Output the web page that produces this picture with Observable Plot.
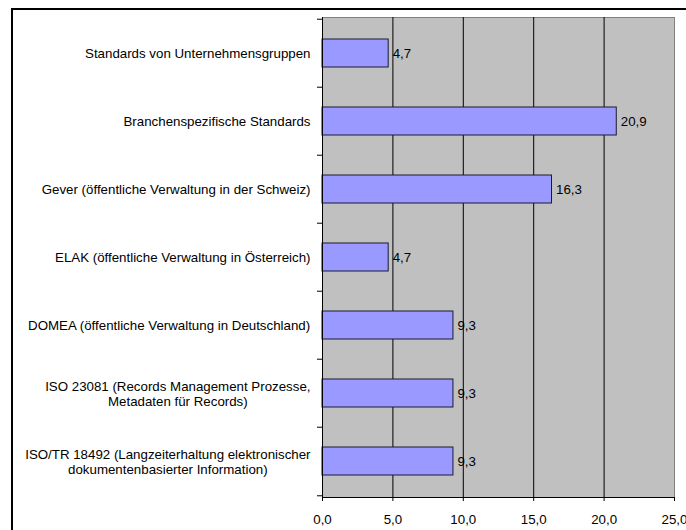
<!DOCTYPE html>
<html><head><meta charset="utf-8">
<script src="https://cdn.jsdelivr.net/npm/d3@7"></script>
<script src="https://cdn.jsdelivr.net/npm/@observablehq/plot@0.6"></script>
<style>
body{margin:0;background:#fff;}
#wrap{position:relative;width:686px;height:530px;overflow:hidden;}
#border{position:absolute;left:11px;top:8px;width:700px;height:600px;border-left:2px solid #000;border-top:2px solid #000;}
#wrap svg{position:absolute;left:0;top:0;}
</style></head><body><div id="wrap"><div id="border"></div></div>
<script>
const categories = [
  "Standards von Unternehmensgruppen",
  "Branchenspezifische Standards",
  "Gever (öffentliche Verwaltung in der Schweiz)",
  "ELAK (öffentliche Verwaltung in Österreich)",
  "DOMEA (öffentliche Verwaltung in Deutschland)",
  "ISO 23081 (Records Management Prozesse,\nMetadaten für Records)",
  "ISO/TR 18492 (Langzeiterhaltung elektronischer\ndokumentenbasierter Information)"
];
const values = [4.7, 20.9, 16.3, 4.7, 9.3, 9.3, 9.3];
const valueLabels = ["4,7", "20,9", "16,3", "4,7", "9,3", "9,3", "9,3"];
const xTicks = [0, 5, 10, 15, 20, 25];
const xTickLabels = ["0,0", "5,0", "10,0", "15,0", "20,0", "25,0"];

const data = categories.map((c, i) => ({category: c, value: values[i], label: valueLabels[i]}));
const FS = 13.3;
const FONT = '"Liberation Sans", Arial, sans-serif';
const W = 686, H = 530, ML = 322, MR = 12, MT = 17, MB = 33;
const bw = (H - MT - MB) / categories.length;

const ctx = document.createElement("canvas").getContext("2d");
ctx.font = `${FS}px "Liberation Sans"`;
const labelMarks = data.map(d => {
  const w = Math.max(...d.category.split("\n").map(l => ctx.measureText(l).width));
  return Plot.text([d], {y: "category", frameAnchor: "left", text: "category", textAnchor: "middle",
    dx: -12 - w / 2, lineHeight: 1.15, fontSize: FS, fill: "#000"});
});

const chart = Plot.plot({
  width: W, height: H, marginLeft: ML, marginRight: MR, marginTop: MT, marginBottom: MB,
  style: {fontFamily: FONT, fontSize: FS + "px", color: "#000", background: "transparent", overflow: "visible"},
  x: {domain: [0, 25], label: null},
  y: {domain: categories, padding: 0, label: null},
  marks: [
    Plot.frame({fill: "#c0c0c0", stroke: "#808080"}),
    Plot.ruleX([5, 10, 15, 20], {stroke: "#000"}),
    Plot.barX(data, {x: "value", y: "category", fill: "#9999ff", stroke: "#1a1a33", strokeWidth: 1, insetTop: 20, insetBottom: 20}),
    Plot.ruleX([0], {stroke: "#000"}),
    Plot.frame({anchor: "bottom", stroke: "#000"}),
    Plot.text(data, {x: "value", y: "category", text: "label", dx: 4, textAnchor: "start", fontSize: FS, fill: "#000"}),
    Plot.axisX({ticks: xTicks, tickFormat: d => xTickLabels[xTicks.indexOf(d)], tickSize: 4, tickPadding: 13, fontSize: FS, label: null}),
    Plot.axisY({ticks: categories, tickFormat: () => "", tickSize: 5, dy: -bw / 2, label: null}),
    Plot.axisY({ticks: [categories[categories.length - 1]], tickFormat: () => "", tickSize: 5, dy: bw / 2, label: null}),
    ...labelMarks
  ]
});
document.getElementById("wrap").appendChild(chart);
</script>
</body></html>
